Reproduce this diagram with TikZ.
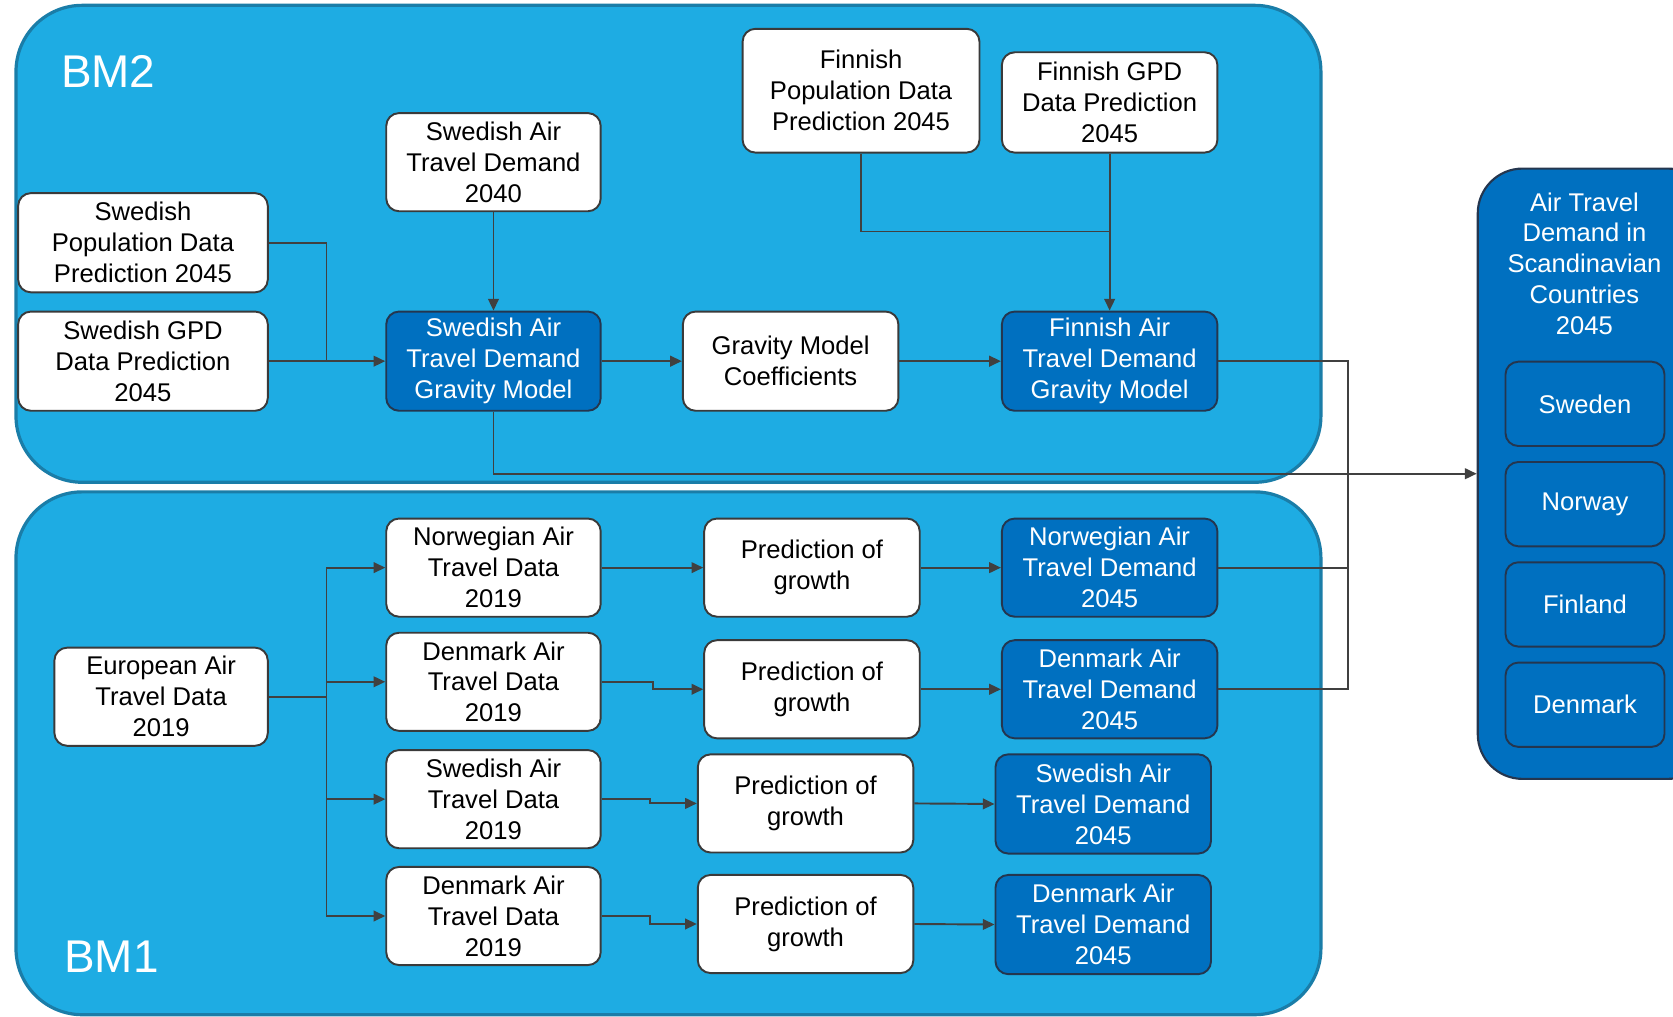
\documentclass[tikz,border=0pt]{standalone}
\usepackage{fontspec}
\setmainfont{Liberation Sans}
\usetikzlibrary{arrows.meta}
\definecolor{panelblue}{HTML}{1EACE3}
\definecolor{panelborder}{HTML}{1A7DA8}
\definecolor{darkblue}{HTML}{0070C0}
\definecolor{dborder}{HTML}{24364F}
\definecolor{wborder}{HTML}{3A3A3A}
\definecolor{linegray}{HTML}{404040}
\begin{document}
\begin{tikzpicture}[x=1pt,y=-1pt,
  panel/.style={fill=panelblue, draw=panelborder, line width=3pt, rounded corners=62pt},
  wbox/.style={draw=wborder, line width=1.8pt, fill=white, rounded corners=12pt,
    minimum width=201pt, minimum height=92pt, inner sep=0pt, align=center,
    font=\fontsize{24}{29}\selectfont, text=black},
  dbox/.style={wbox, fill=darkblue, draw=dborder, text=white},
  cbox/.style={dbox, minimum width=149pt, minimum height=79pt},
  ln/.style={draw=linegray, line width=1.8pt},
  arr/.style={ln, -{Triangle[length=11pt,width=10pt]}},
  bmlabel/.style={text=white, font=\fontsize{43}{50}\selectfont, inner sep=0pt}
]
\useasboundingbox (0,0) rectangle (1568,953);

% panels
\draw[panel] (15,5) rectangle (1238,452);
\draw[panel] (15,461) rectangle (1238,951);
\node[draw=dborder, fill=darkblue, line width=2pt, rounded corners=42pt,
  minimum width=220pt, minimum height=572pt, inner sep=0pt] (Scan) at (1495,444) {};

\node[bmlabel, anchor=west] (BMtwo) at (57,67) {BM2};
\node[bmlabel, anchor=west] (BMone) at (60,897) {BM1};

% BM2 nodes
\node[wbox, minimum width=234pt, minimum height=93pt] (SwPop) at (134,227.5) {Swedish\\Population Data\\Prediction 2045};
\node[wbox, minimum width=234pt, minimum height=93pt] (SwGPD) at (134,338.5) {Swedish GPD\\Data Prediction\\2045};
\node[wbox] (SwAir) at (462.5,152) {Swedish Air\\Travel Demand\\2040};
\node[dbox, minimum height=93pt] (SwGM) at (462.5,338.5) {Swedish Air\\Travel Demand\\Gravity Model};
\node[wbox, minimum width=202pt, minimum height=93pt] (GMC) at (741,338.5) {Gravity Model\\Coefficients};
\node[wbox, minimum width=222pt, minimum height=116pt] (FinPop) at (807,85) {Finnish\\Population Data\\Prediction 2045};
\node[wbox, minimum width=202pt, minimum height=94pt] (FinGPD) at (1040,96) {Finnish GPD\\Data Prediction\\2045};
\node[dbox, minimum width=202pt, minimum height=93pt] (FinGM) at (1040,338.5) {Finnish Air\\Travel Demand\\Gravity Model};

% BM1 nodes
\node[wbox, minimum width=200pt] (Euro) at (151,653) {European Air\\Travel Data\\2019};
\node[wbox] (NorD) at (462.5,532) {Norwegian Air\\Travel Data\\2019};
\node[wbox] (DenDa) at (462.5,639) {Denmark Air\\Travel Data\\2019};
\node[wbox] (SweD) at (462.5,749) {Swedish Air\\Travel Data\\2019};
\node[wbox] (DenDb) at (462.5,858.5) {Denmark Air\\Travel Data\\2019};
\node[wbox, minimum width=202pt] (Pa) at (761,532) {Prediction of\\growth};
\node[wbox, minimum width=202pt] (Pb) at (761,646) {Prediction of\\growth};
\node[wbox, minimum width=202pt] (Pc) at (755,753) {Prediction of\\growth};
\node[wbox, minimum width=202pt] (Pd) at (755,866) {Prediction of\\growth};
\node[dbox, minimum width=202pt] (NorO) at (1040,532) {Norwegian Air\\Travel Demand\\2045};
\node[dbox, minimum width=202pt] (DenOa) at (1040,646) {Denmark Air\\Travel Demand\\2045};
\node[dbox, minimum width=202pt, minimum height=93pt] (SweO) at (1034,753.5) {Swedish Air\\Travel Demand\\2045};
\node[dbox, minimum width=202pt, minimum height=93pt] (DenOb) at (1034,866.5) {Denmark Air\\Travel Demand\\2045};

% right panel contents
\node[text=white, align=center, inner sep=0pt, font=\fontsize{24}{28.8}\selectfont] (ScanT) at (1485,247)
  {Air Travel\\Demand in\\Scandinavian\\Countries\\2045};
\node[cbox] (Sweden) at (1485.5,378.5) {Sweden};
\node[cbox] (Norway) at (1485.5,472.5) {Norway};
\node[cbox] (Finland) at (1485.5,566.5) {Finland};
\node[cbox] (Denmark) at (1485.5,660.5) {Denmark};

% BM2 connectors
\coordinate (jA) at (306,338.5);
\draw[ln] (SwPop.east) -| (jA);
\draw[arr] (SwGPD.east) -- (SwGM.west);
\draw[arr] (SwAir.south) -- (SwGM.north);
\draw[arr] (SwGM.east) -- (GMC.west);
\draw[arr] (GMC.east) -- (FinGM.west);
\coordinate (jF) at (1040,217);
\draw[ln] (FinPop.south) |- (jF);
\draw[arr] (FinGPD.south) -- (FinGM.north);
\draw[arr] (SwGM.south) |- (Scan.west);

% right bus
\coordinate (rb) at (1263,338.5);
\draw[ln] (FinGM.east) -- (rb) -- (rb |- DenOa.east) -- (DenOa.east);
\draw[ln] (NorO.east) -- (NorO.east -| rb);

% BM1 connectors
\coordinate (jE) at (306,653);
\draw[ln] (Euro.east) -- (jE);
\draw[arr] (jE) |- (NorD.west);
\draw[arr] (jE) |- (DenDa.west);
\draw[arr] (jE) |- (SweD.west);
\draw[arr] (jE) |- (DenDb.west);

\draw[arr] (NorD.east) -- ++(48,0) |- (Pa.west);
\draw[arr] (DenDa.east) -- ++(48,0) |- (Pb.west);
\draw[arr] (SweD.east) -- ++(45,0) |- (Pc.west);
\draw[arr] (DenDb.east) -- ++(45,0) |- (Pd.west);

\draw[arr] (Pa.east) -- (NorO.west);
\draw[arr] (Pb.east) -- (DenOa.west);
\draw[arr] (Pc.east) -- (SweO.west);
\draw[arr] (Pd.east) -- (DenOb.west);
\end{tikzpicture}
\end{document}
